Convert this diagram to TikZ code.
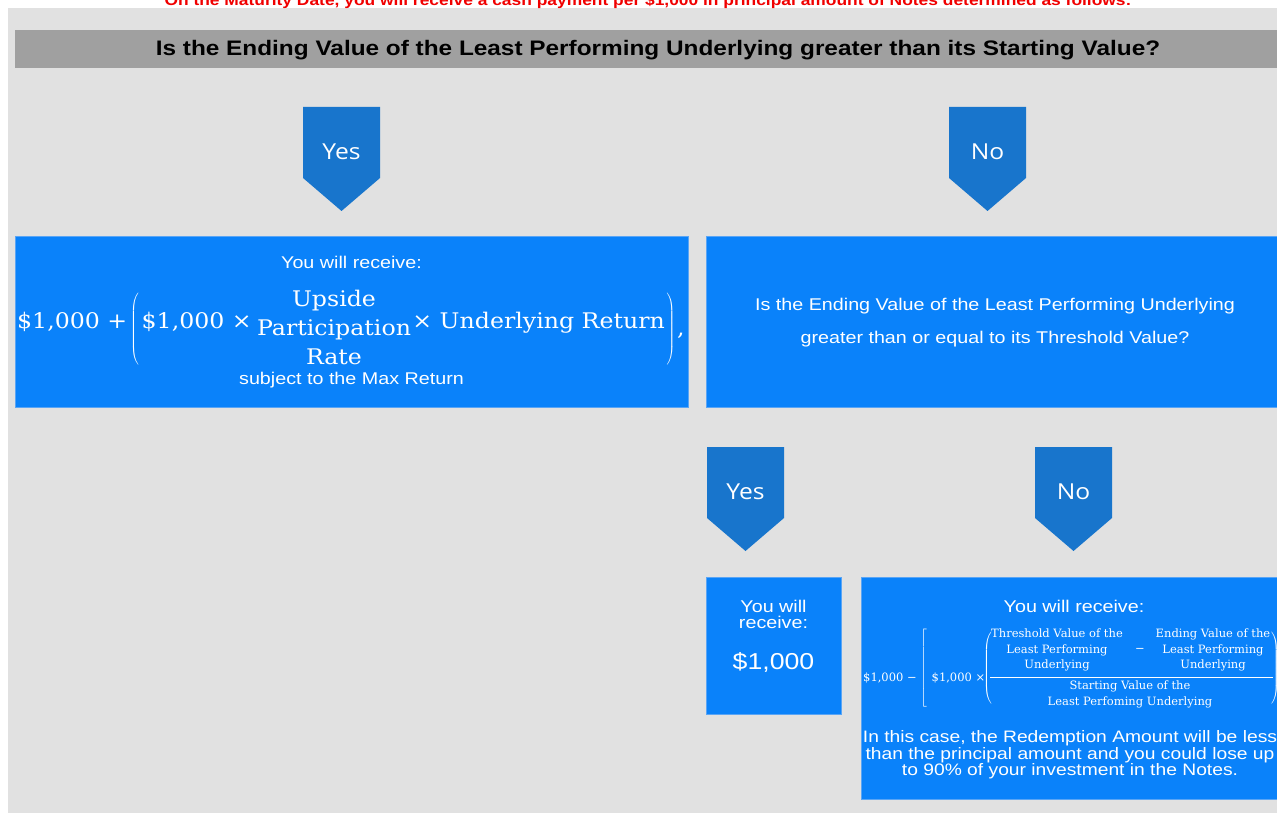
\documentclass[tikz,border=0pt]{standalone}
\usepackage{fontspec}
\setmainfont{Liberation Sans}[FakeStretch=1.16]
\newfontfamily\dser{DejaVu Serif}
\newfontfamily\dserw{DejaVu Serif}[FakeStretch=1.1]
\newfontfamily\osans{Open Sans}[FakeStretch=1.12]
\definecolor{bggray}{RGB}{225,225,225}
\definecolor{bargray}{RGB}{160,160,160}
\definecolor{chevblue}{RGB}{24,117,204}
\definecolor{boxblue}{RGB}{10,130,250}
\definecolor{boxedge}{RGB}{90,165,245}
\definecolor{titlered}{RGB}{240,0,0}
\newcommand{\lparof}[1]{$\left(\vcenter{\hbox{\rule{0pt}{#1}}}\right.$}
\newcommand{\rparof}[1]{$\left.\vcenter{\hbox{\rule{0pt}{#1}}}\right)$}
\newcommand{\lbrkof}[1]{$\left[\vcenter{\hbox{\rule{0pt}{#1}}}\right.$}
\tikzset{
  bluebox/.style={fill=boxblue, draw=boxedge, line width=1pt},
  chevtext/.style={text=white, font=\osans\fontsize{22}{26}\selectfont, inner sep=0pt},
  wtext/.style={text=white, inner sep=0pt, align=center},
  bigf/.style={text=white, inner sep=0pt, font=\dserw\fontsize{21.5}{29}\selectfont},
  smallf/.style={text=white, inner sep=0pt, align=center, font=\dser\fontsize{11.5}{15.8}\selectfont},
  chevshape/.pic={\fill[chevblue] (-38.5,0) -- (38.5,0) -- (38.5,71) -- (0,104) -- (-38.5,71) -- cycle;}
}
\begin{document}
\begin{tikzpicture}[x=1pt,y=-1pt]
\clip (0,0) rectangle (1277,813);
\fill[white] (0,0) rectangle (1277,813);
\fill[bggray] (8,8) rectangle (1277,813);
% red title (cut at top)
\node (title) [anchor=base, text=titlered, font=\bfseries\fontsize{15}{18}\selectfont, inner sep=0pt] at (648,6) {On the Maturity Date, you will receive a cash payment per \$1,000 in principal amount of Notes determined as follows:};
% header bar
\fill[bargray] (15,30) rectangle (1277,68);
\node (q1) [font=\bfseries\fontsize{21}{24}\selectfont, inner sep=0pt] at (658,50.5) {Is the Ending Value of the Least Performing Underlying greater than its Starting Value?};
% chevrons
\pic at (341.5,107) {chevshape};
\node (yes1) [chevtext] at (341.5,152) {Yes};
\pic at (987.5,107) {chevshape};
\node (no1) [chevtext] at (987.5,152) {No};
\pic at (745.5,447) {chevshape};
\node (yes2) [chevtext] at (745.5,492) {Yes};
\pic at (1073.5,447) {chevshape};
\node (no2) [chevtext] at (1073.5,492) {No};
% left box
\path[bluebox] (15,237) rectangle (688,407);
\node (recA) [wtext, font=\fontsize{17}{20}\selectfont] at (351.5,262) {You will receive:};
\node (a1) [bigf, anchor=base west] at (17,328) {\$1,000 +};
\node (apl) [bigf] at (135,329) {\lparof{72pt}};
\node (a2) [bigf, anchor=base west] at (141.5,328) {\$1,000 ×};
\node (aup) [bigf, anchor=base] at (334,306.5) {Upside};
\node (apart) [bigf, anchor=base] at (334,335) {Participation};
\node (arate) [bigf, anchor=base] at (334,364.5) {Rate};
\node (a3) [bigf, anchor=base east] at (665,328) {× Underlying Return};
\node (apr) [bigf] at (670.5,329) {\rparof{72pt}};
\node (acm) [bigf, anchor=base west] at (677,335) {,};
\node (maxA) [wtext, font=\fontsize{17}{20}\selectfont] at (351.5,380) {subject to the Max Return};
% right top box
\path[bluebox] (706,237) rectangle (1290,407);
\node (q2) [wtext, font=\fontsize{17}{33}\selectfont] at (995,322.5) {Is the Ending Value of the Least Performing Underlying\\greater than or equal to its Threshold Value?};
% $1,000 box
\path[bluebox] (706,577) rectangle (841,714);
\node (recB) [wtext, font=\fontsize{17}{16}\selectfont] at (773.5,614) {You will\\receive:};
\node (amtB) [wtext, font=\fontsize{23}{26}\selectfont] at (773.5,662) {\$1,000};
% bottom right box
\path[bluebox] (861.5,577) rectangle (1290,799);
\node (recC) [wtext, font=\fontsize{17}{20}\selectfont] at (1074,606) {You will receive:};
\node (c1) [smallf, anchor=base west] at (863,681.5) {\$1,000 −};
\node (cbr) [smallf] at (924,668) {\lbrkof{78pt}};
\node (c2) [smallf, anchor=base west] at (931.5,681.5) {\$1,000 ×};
\node (cpl) [smallf] at (988,668.5) {\lparof{75pt}};
\node (cthr) [smallf] at (1057,650) {Threshold Value of the\\Least Performing\\Underlying};
\node (cmin) [smallf] at (1140,650) {−};
\node (cend) [smallf] at (1213,650) {Ending Value of the\\Least Performing\\Underlying};
\coordinate (barL) at (990,677.3);
\coordinate (barR) at (1273,677.3);
\draw[white, line width=0.9pt] (barL) -- (barR);
\node (cden) [smallf] at (1130,694.5) {Starting Value of the\\Least Perfoming Underlying};
\node (cpr) [smallf] at (1275,668.5) {\rparof{75pt}};
\node (noteC) [wtext, font=\fontsize{16.6}{15}\selectfont] at (1070,755) {In this case, the Redemption Amount will be less\\than the principal amount and you could lose up\\to 90\% of your investment in the Notes.};
\end{tikzpicture}
\end{document}
